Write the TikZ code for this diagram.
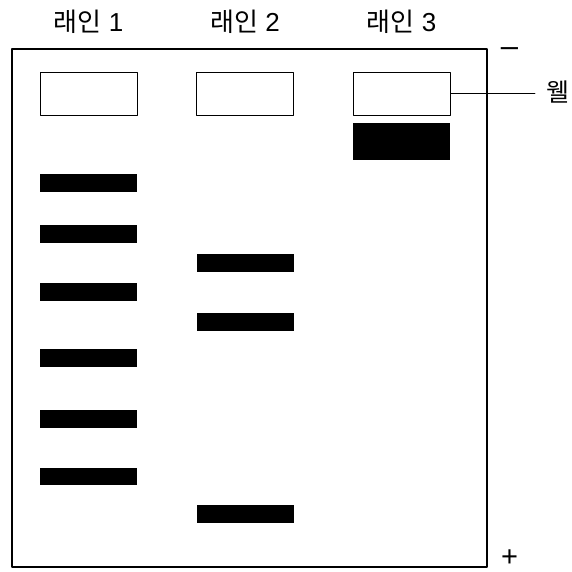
\documentclass[tikz,border=0pt]{standalone}
\usepackage{fontspec}
\setmainfont{Liberation Sans}
\newfontfamily\kofont{Noto Sans CJK KR}
\usetikzlibrary{positioning}

\tikzset{
  well/.style={draw, line width=0.8pt, minimum width=97pt, minimum height=43pt, inner sep=0pt},
  band/.style={fill=black, minimum width=97pt, minimum height=17.5pt, inner sep=0pt},
  lanelabel/.style={font=\fontsize{26}{26}\selectfont, anchor=base, inner sep=0pt},
  pole/.style={font=\fontsize{31}{31}\selectfont, anchor=base, inner sep=0pt}
}

\begin{document}
\begin{tikzpicture}[x=1pt, y=-1pt, line cap=round, line join=round]
    \useasboundingbox (0,0) rectangle (572,571);

    % gel
    \node[draw, line width=2pt, minimum width=475.5pt, minimum height=518pt, inner sep=0pt] (gel) at (249.25,308) {};

    % lane labels
    \node[lanelabel] (lab1) at (88.5,31) {{\kofont 래인} 1};
    \node[lanelabel] (lab2) at (245,31) {{\kofont 래인} 2};
    \node[lanelabel] (lab3) at (401.5,31) {{\kofont 래인} 3};

    % wells
    \node[well] (well1) at (88.5,93.5) {};
    \node[well] (well2) at (245,93.5) {};
    \node[well] (well3) at (401.5,93.5) {};

    % bands, lane 1
    \foreach \y [count=\i] in {183,234,292,358,419,476.5}
        \node[band] (ba\i) at (88.5,\y) {};
    % bands, lane 2
    \foreach \y [count=\i] in {263,322,514}
        \node[band] (bb\i) at (245,\y) {};
    % lane 3 stays near the well
    \node[band, minimum height=37pt] (bc1) at (401.5,141.5) {};

    % poles
    \node[pole] (minus) at (509.5,56.5) {\textendash};
    \node[pole, font=\fontsize{29}{29}\selectfont] (plus) at (509.5,566) {+};

    % well label
    \node[anchor=west, inner xsep=11pt, inner ysep=0pt, font=\fontsize{25}{25}\selectfont\kofont] (welllab) at (535,92) {웰};
    \draw[line width=0.8pt] (well3.east) -- (welllab.west |- well3.east);
\end{tikzpicture}
\end{document}
